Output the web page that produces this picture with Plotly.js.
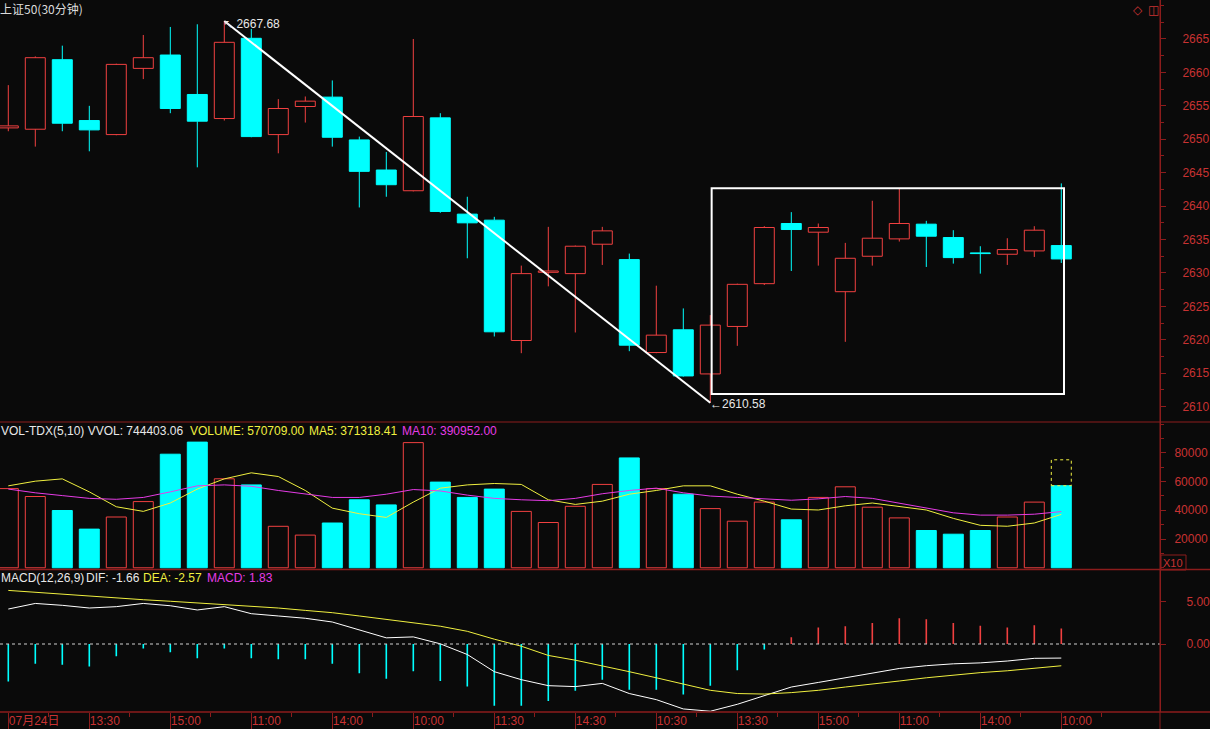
<!DOCTYPE html>
<html><head><meta charset="utf-8">
<script src="https://cdn.plot.ly/plotly-3.0.1.min.js"></script>
<style>html,body{margin:0;padding:0;background:#0a0a0a;}#chart{width:1210px;height:729px;}</style>
</head><body><div id="chart"></div>
<script>
// ---------- data ----------
const tickIndex = [0,3,6,9,12,15,18,21,24,27,30,33,36,39];
const tickLabels = ['07月24日','13:30','15:00','11:00','14:00','10:00','11:30','14:30','10:30','13:30','15:00','11:00','14:00','10:00'];

const openP  = [2651.7,2651.5,2661.9,2652.8,2650.7,2660.6,2662.6,2656.7,2653.1,2665.1,2650.7,2654.9,2656.3,2649.9,2645.4,2642.3,2653.2,2638.8,2637.9,2619.9,2630.1,2629.9,2634.3,2632.0,2618.1,2621.5,2614.9,2622.0,2628.4,2637.4,2636.1,2627.2,2632.5,2635.1,2637.3,2635.3,2633.0,2632.8,2633.3,2634.1];
const closeP = [2652.0,2662.2,2652.4,2651.4,2661.2,2662.2,2654.6,2652.7,2664.5,2650.4,2654.6,2655.7,2650.3,2645.2,2643.2,2653.4,2639.2,2637.5,2621.2,2629.9,2630.3,2634.0,2636.3,2619.2,2620.7,2614.6,2622.2,2628.3,2636.8,2636.5,2636.8,2632.2,2635.2,2637.4,2635.5,2632.3,2632.9,2633.5,2636.4,2632.1];
const highP  = [2658.1,2662.4,2664.0,2655.0,2661.3,2665.6,2666.8,2667.2,2667.68,2666.5,2656.0,2656.4,2658.8,2650.4,2648.1,2665.0,2653.9,2641.4,2638.4,2631.1,2636.9,2634.1,2636.9,2632.9,2628.1,2624.7,2623.7,2628.4,2637.0,2639.1,2637.4,2634.5,2640.8,2642.67,2637.8,2636.4,2634.0,2635.2,2637.0,2643.4];
const lowP   = [2651.2,2648.9,2651.2,2648.2,2650.6,2659.0,2653.9,2645.8,2652.8,2650.3,2647.9,2652.5,2648.9,2639.8,2641.4,2642.2,2639.0,2632.2,2620.5,2618.0,2628.0,2621.1,2631.2,2618.3,2618.0,2614.5,2610.58,2619.1,2628.2,2630.3,2631.1,2619.7,2631.1,2634.7,2630.9,2631.4,2629.9,2631.2,2632.4,2631.5];

const volume = [55080,49580,39850,26900,35330,46040,79000,87400,61900,57650,28860,22740,31150,47290,43740,87060,59600,48950,54730,39220,31500,42770,57990,76420,55080,51180,41170,32410,45690,33380,48950,56330,42140,34700,25940,23370,25940,35330,45690,57071];
const volumeProjectedLast = 75100;
const volMA5  = [57000,60240,61850,52800,42460,39230,45040,54750,61850,66050,63470,53770,41490,37610,35030,45690,55390,57650,58620,57980,47310,44080,46340,51180,53770,57000,57000,51180,46340,40840,40200,43110,45040,42460,40200,34380,29540,28890,31150,37132];
const volMA10 = [54740,52150,50210,48270,47630,48920,52800,57000,57650,56680,53770,51180,48920,48920,51180,54420,53450,50540,48270,47310,46660,48270,51500,53770,55390,52150,49890,48920,47950,46980,47950,49570,48270,45040,41490,38250,36640,36640,37280,39095];
const volTicks = [20000,40000,60000,80000];

const macdHist = [-4.43,-2.34,-2.45,-2.67,-1.46,-0.53,-0.97,-1.69,-0.53,-1.69,-1.80,-1.80,-2.34,-3.44,-4.10,-3.22,-4.37,-5.03,-7.28,-7.28,-6.73,-5.52,-4.21,-5.41,-5.41,-5.96,-4.92,-3.11,-0.64,0.79,1.94,2.10,2.49,3.04,2.93,2.49,2.16,1.94,2.21,1.83];
const difLine  = [4.13,4.79,4.57,4.25,4.41,4.79,4.52,4.02,4.41,3.58,3.31,3.04,2.60,1.67,0.73,0.84,0.02,-1.24,-3.27,-4.21,-4.92,-5.03,-4.65,-5.85,-6.57,-7.67,-7.94,-7.12,-6.13,-5.08,-4.54,-3.99,-3.44,-2.89,-2.56,-2.34,-2.23,-2.01,-1.69,-1.66];
const deaLine  = [6.33,6.10,5.90,5.65,5.40,5.23,5.05,4.85,4.68,4.52,4.25,3.97,3.70,3.31,2.90,2.49,2.10,1.50,0.57,-0.26,-1.35,-1.91,-2.56,-3.27,-3.99,-4.76,-5.47,-5.85,-5.91,-5.74,-5.47,-5.08,-4.76,-4.37,-3.99,-3.66,-3.38,-3.16,-2.89,-2.57];

const volHeader = {vvol:'744403.06', volume:'570709.00', ma5:'371318.41', ma10:'390952.00'};
const macdHeader = {dif:'-1.66', dea:'-2.57', macd:'1.83'};
const trendFrom = 8, trendTo = 26;           // bar indices of the drawn trend line
const boxFrom = 26.05, boxTo = 39.1, boxTop = 2642.67, boxBottom = 2611.9; // drawn rectangle

// ---------- style ----------
const BG='#0a0a0a', UP='#f04040', DOWN='#00ffff', AXIS='#8c1c1c', TXT='#c83232';
const YEL='#f0f040', MAG='#e63ce6';
const FONT='Liberation Sans, Arial, DejaVu Sans, Noto Sans CJK SC';
const PW=1160, PH=712;
const px = v => v/PW, py = v => 1 - v/PH;
const BW = 0.74;

const idx = openP.map((_,i)=>i);
const isUp = idx.map(i => closeP[i] >= openP[i]);

function wick(sel){
  const x=[],y=[];
  idx.forEach(i=>{ if(!sel(i)) return;
    const top=Math.max(openP[i],closeP[i]), bot=Math.min(openP[i],closeP[i]);
    if(highP[i]>top){x.push(i,i,null);y.push(highP[i],top,null);}
    if(lowP[i]<bot){x.push(i,i,null);y.push(bot,lowP[i],null);}
  });
  return {x,y};
}
const wu=wick(i=>isUp[i]), wd=wick(i=>!isUp[i]);
const upI=idx.filter(i=>isUp[i]), dnI=idx.filter(i=>!isUp[i]);

const traces=[
  {type:'scatter',mode:'lines',x:wu.x,y:wu.y,line:{color:UP,width:1},xaxis:'x',yaxis:'y',hoverinfo:'skip'},
  {type:'scatter',mode:'lines',x:wd.x,y:wd.y,line:{color:DOWN,width:1},xaxis:'x',yaxis:'y',hoverinfo:'skip'},
  {type:'bar',x:upI,y:upI.map(i=>Math.max(closeP[i]-openP[i],0.08)),base:upI.map(i=>openP[i]),width:BW,
   marker:{color:'rgba(0,0,0,0)',line:{color:UP,width:1}},xaxis:'x',yaxis:'y'},
  {type:'bar',x:dnI,y:dnI.map(i=>Math.max(openP[i]-closeP[i],0.08)),base:dnI.map(i=>closeP[i]),width:BW,
   marker:{color:DOWN,line:{color:DOWN,width:1}},xaxis:'x',yaxis:'y'},
  // volume
  {type:'bar',x:upI,y:upI.map(i=>volume[i]),width:BW,marker:{color:'rgba(0,0,0,0)',line:{color:UP,width:1}},xaxis:'x',yaxis:'y2'},
  {type:'bar',x:dnI,y:dnI.map(i=>volume[i]),width:BW,marker:{color:DOWN,line:{color:DOWN,width:1}},xaxis:'x',yaxis:'y2'},
  {type:'scatter',mode:'lines',x:idx,y:volMA5,line:{color:YEL,width:1},xaxis:'x',yaxis:'y2'},
  {type:'scatter',mode:'lines',x:idx,y:volMA10,line:{color:MAG,width:1},xaxis:'x',yaxis:'y2'},
  // macd
  {type:'bar',x:idx,y:macdHist,width:0.06,marker:{color:macdHist.map(v=>v>=0?UP:DOWN),line:{width:0}},xaxis:'x',yaxis:'y3'},
  {type:'scatter',mode:'lines',x:idx,y:difLine,line:{color:'#ffffff',width:1},xaxis:'x',yaxis:'y3'},
  {type:'scatter',mode:'lines',x:idx,y:deaLine,line:{color:YEL,width:1},xaxis:'x',yaxis:'y3'}
];

const tickfont={family:FONT,size:12,color:TXT};
const yCommon={side:'right',anchor:'x',showgrid:false,zeroline:false,showline:true,linecolor:AXIS,linewidth:1,
  ticks:'outside',ticklen:5,tickcolor:AXIS,tickfont:tickfont,fixedrange:true};

const layout={
  width:1210,height:729,margin:{l:0,r:50,t:0,b:17,pad:0},
  paper_bgcolor:BG,plot_bgcolor:BG,showlegend:false,hovermode:false,barmode:'overlay',
  xaxis:{domain:[0,1],anchor:'y3',range:[-8.3/27,(PW-8.3)/27],showgrid:false,zeroline:false,showline:false,
    tickmode:'array',tickvals:tickIndex,ticktext:tickLabels,ticks:'outside',ticklen:17,tickcolor:AXIS,tickwidth:1,
    ticklabelposition:'outside right',ticklabelstandoff:-2,tickfont:{family:FONT,size:12,color:TXT},
    minor:{tick0:1.5,dtick:3,ticks:'outside',ticklen:4,tickcolor:AXIS},fixedrange:true},
  yaxis:Object.assign({},yCommon,{domain:[py(422),1],range:[2607.71,2670.83],tickmode:'array',
    tickvals:[2610,2615,2620,2625,2630,2635,2640,2645,2650,2655,2660,2665],ticklabelstandoff:14,
    minor:{dtick:2.5,tick0:2607.5,ticks:'outside',ticklen:3,tickcolor:AXIS}}),
  yaxis2:Object.assign({},yCommon,{domain:[py(569.5),py(422)],range:[-1182,101391],tickmode:'array',
    tickvals:volTicks,ticktext:volTicks.map(String),ticklabelstandoff:6,
    minor:{dtick:10000,ticks:'outside',ticklen:3,tickcolor:AXIS}}),
  yaxis3:Object.assign({},yCommon,{domain:[0,py(569.5)],range:[-8.03,8.80],tickmode:'array',
    tickvals:[0,5],ticktext:['0.00','5.00'],ticklabelstandoff:18}),
  shapes:[
    {type:'line',xref:'x',yref:'y',x0:trendFrom,y0:highP[trendFrom],x1:trendTo,y1:lowP[trendTo],line:{color:'#ffffff',width:2}},
    {type:'rect',xref:'x',yref:'y',x0:boxFrom,x1:boxTo,y0:boxBottom,y1:boxTop,line:{color:'#ffffff',width:2}},
    {type:'rect',xref:'x',yref:'y2',x0:39-BW/2,x1:39+BW/2,y0:volume[39],y1:volumeProjectedLast,line:{color:YEL,width:1,dash:'dot'}},
    {type:'line',xref:'paper',yref:'y3',x0:0,x1:1,y0:0,y1:0,line:{color:'#d0d0d0',width:1,dash:'dot'}},
    {type:'line',xref:'paper',yref:'paper',x0:0,x1:1210/PW,y0:py(422),y1:py(422),line:{color:AXIS,width:1}},
    {type:'line',xref:'paper',yref:'paper',x0:0,x1:1210/PW,y0:py(569.5),y1:py(569.5),line:{color:AXIS,width:1.5}},
    {type:'line',xref:'paper',yref:'paper',x0:0,x1:1210/PW,y0:0,y1:0,line:{color:AXIS,width:1.5}},
    {type:'line',xref:'paper',yref:'paper',x0:1,x1:1,y0:py(729),y1:1,line:{color:AXIS,width:1}},
    {type:'rect',xref:'paper',yref:'paper',x0:px(1161),x1:px(1186),y0:py(570),y1:py(555),line:{color:AXIS,width:1}}
  ],
  annotations:[]
};
const A=layout.annotations;
function txt(x,y,text,color,size,family){A.push({xref:'paper',yref:'paper',x:px(x),y:py(y),xanchor:'left',yanchor:'middle',
  text:text,showarrow:false,borderpad:0,font:{family:family||FONT,size:size||12,color:color}});}
txt(-1,9,'上证50(30分钟)','#dcdcdc',12,'Noto Sans CJK SC, Liberation Sans');
txt(1132,9.5,'◇',TXT,12,'DejaVu Sans');
txt(1147,9.5,'◫',TXT,12,'DejaVu Sans');
txt(0,430.5,'VOL-TDX(5,10)&nbsp;VVOL:&nbsp;'+volHeader.vvol,'#e8e8e8');
txt(189,430.5,'VOLUME:&nbsp;'+volHeader.volume,YEL);
txt(308,430.5,'MA5:&nbsp;'+volHeader.ma5,YEL);
txt(401,430.5,'MA10:&nbsp;'+volHeader.ma10,MAG);
txt(0,578,'MACD(12,26,9)','#e8e8e8');
txt(85,578,'DIF:&nbsp;'+macdHeader.dif,'#e8e8e8');
txt(142,578,'DEA:&nbsp;'+macdHeader.dea,YEL);
txt(206,578,'MACD:&nbsp;'+macdHeader.macd,MAG);
txt(1162,562.5,'X10',TXT,11);
A.push({xref:'x',yref:'y',x:trendFrom,y:highP[trendFrom],xanchor:'left',yanchor:'middle',xshift:-2,yshift:-3,showarrow:false,borderpad:0,
  text:'↖&nbsp;'+highP[trendFrom].toFixed(2),font:{family:FONT,size:12,color:'#e8e8e8'}});
A.push({xref:'x',yref:'y',x:trendTo,y:lowP[trendTo],xanchor:'left',yanchor:'middle',xshift:-1,yshift:-1,showarrow:false,borderpad:0,
  text:'←'+lowP[trendTo].toFixed(2),font:{family:FONT,size:12,color:'#e8e8e8'}});

Plotly.newPlot('chart',traces,layout,{displayModeBar:false,staticPlot:true});
</script></body></html>
